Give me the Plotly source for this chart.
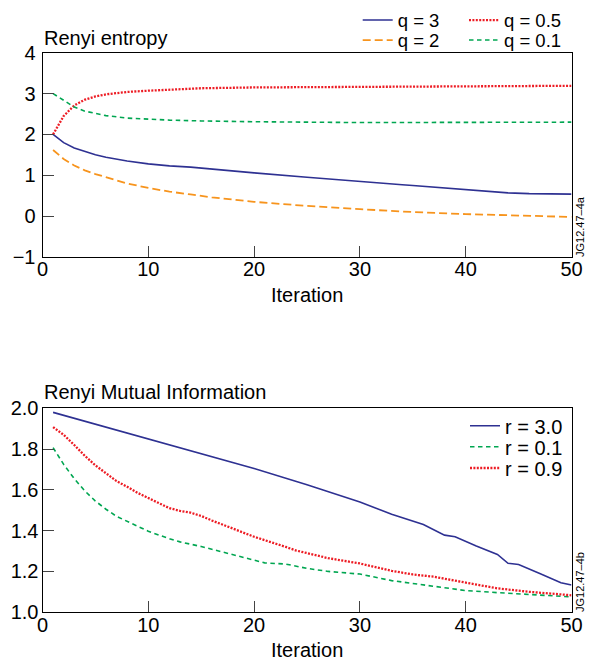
import plotly.graph_objects as go

# ---------------- data ----------------
# Top panel: Renyi entropy vs iteration
q3_x = [1, 2, 3, 4, 5, 6, 8, 10, 12, 14, 16, 20, 25, 30, 34, 35, 40, 44, 46, 50]
q3_y = [2.00, 1.80, 1.67, 1.58, 1.50, 1.44, 1.35, 1.28, 1.23, 1.20, 1.15, 1.06, 0.95, 0.84, 0.77, 0.75, 0.65, 0.57, 0.55, 0.54]

q2_x = [1, 2, 3, 4, 5, 6, 7, 8, 10, 12, 14, 16, 20, 25, 30, 35, 40, 45, 50]
q2_y = [1.62, 1.40, 1.24, 1.12, 1.03, 0.95, 0.87, 0.80, 0.69, 0.60, 0.53, 0.46, 0.35, 0.25, 0.17, 0.10, 0.05, 0.01, -0.02]

q05_x = [1, 2, 3, 4, 5, 6, 7, 8, 10, 12, 15, 20, 30, 40, 50]
q05_y = [2.00, 2.45, 2.71, 2.85, 2.93, 2.98, 3.01, 3.04, 3.07, 3.10, 3.13, 3.15, 3.16, 3.17, 3.19]

q01_x = [1, 2, 3, 4, 5, 6, 8, 10, 12, 15, 20, 30, 40, 50]
q01_y = [3.00, 2.83, 2.67, 2.57, 2.51, 2.46, 2.40, 2.37, 2.35, 2.33, 2.31, 2.29, 2.29, 2.30]

# Bottom panel: Renyi mutual information vs iteration
r30_x = [1, 5, 10, 15, 20, 25, 30, 33, 35, 36, 38, 39, 41, 43, 44, 45, 47, 49, 50]
r30_y = [1.980, 1.922, 1.850, 1.778, 1.705, 1.625, 1.541, 1.480, 1.447, 1.430, 1.378, 1.370, 1.325, 1.283, 1.240, 1.234, 1.190, 1.144, 1.133]

r01_x = [1, 2, 3, 4, 5, 6, 7, 8, 9, 10, 12, 13, 15, 17, 20, 21, 23, 25, 27, 30, 33, 35, 37, 40, 43, 46, 50]
r01_y = [1.807, 1.725, 1.655, 1.595, 1.545, 1.505, 1.470, 1.445, 1.420, 1.397, 1.360, 1.345, 1.322, 1.295, 1.255, 1.242, 1.236, 1.215, 1.200, 1.187, 1.155, 1.140, 1.125, 1.106, 1.096, 1.088, 1.075]

r09_x = [1, 2, 3, 4, 5, 6, 7, 8, 9, 10, 12, 13, 14, 15, 16, 18, 20, 23, 24, 25, 27, 30, 33, 35, 37, 40, 43, 46, 48, 50]
r09_y = [1.908, 1.870, 1.820, 1.767, 1.720, 1.680, 1.643, 1.615, 1.585, 1.560, 1.510, 1.497, 1.488, 1.472, 1.450, 1.410, 1.370, 1.320, 1.302, 1.290, 1.265, 1.239, 1.203, 1.185, 1.174, 1.145, 1.117, 1.100, 1.093, 1.083]

x_ticks = [0, 10, 20, 30, 40, 50]
top_y_ticks = [-1, 0, 1, 2, 3, 4]
top_y_text = ["\u22121", "0", "1", "2", "3", "4"]
bot_y_ticks = [1.0, 1.2, 1.4, 1.6, 1.8, 2.0]
bot_y_text = ["1.0", "1.2", "1.4", "1.6", "1.8", "2.0"]

top_title = "Renyi entropy"
bot_title = "Renyi Mutual Information"
x_title = "Iteration"
top_tag = "JG12.47–4a"
bot_tag = "JG12.47–4b"

# ---------------- style ----------------
W, H = 593, 668
FONT = "Liberation Sans, Arial, Helvetica, sans-serif"
FS = 20
LEG_FS_TOP = 18.5
BLUE = "#2E3192"
ORANGE = "#F7941D"
RED = "#ED1C24"
GREEN = "#00A651"
TICKLEN = 11


def px(v):
    return v / W


def py(v):
    return 1 - v / H


fig = go.Figure()

fig.add_trace(go.Scatter(x=q3_x, y=q3_y, mode="lines", name="q = 3", showlegend=True,
                         line=dict(color=BLUE, width=1.6), xaxis="x", yaxis="y", legend="legend"))
fig.add_trace(go.Scatter(x=q2_x, y=q2_y, mode="lines", name="q = 2", showlegend=True,
                         line=dict(color=ORANGE, width=1.8, dash="8px,4px"), xaxis="x", yaxis="y", legend="legend2"))
fig.add_trace(go.Scatter(x=q05_x, y=q05_y, mode="lines", name="q = 0.5", showlegend=True,
                         line=dict(color=RED, width=2.3, dash="2px,1.4px"), xaxis="x", yaxis="y", legend="legend3"))
fig.add_trace(go.Scatter(x=q01_x, y=q01_y, mode="lines", name="q = 0.1", showlegend=True,
                         line=dict(color=GREEN, width=1.6, dash="4.5px,3.5px"), xaxis="x", yaxis="y", legend="legend4"))

fig.add_trace(go.Scatter(x=r30_x, y=r30_y, mode="lines", name="r = 3.0", showlegend=True,
                         line=dict(color=BLUE, width=1.6), xaxis="x2", yaxis="y2", legend="legend5"))
fig.add_trace(go.Scatter(x=r01_x, y=r01_y, mode="lines", name="r = 0.1", showlegend=True,
                         line=dict(color=GREEN, width=1.6, dash="4.5px,3.5px"), xaxis="x2", yaxis="y2", legend="legend6"))
fig.add_trace(go.Scatter(x=r09_x, y=r09_y, mode="lines", name="r = 0.9", showlegend=True,
                         line=dict(color=RED, width=2.3, dash="2px,1.4px"), xaxis="x2", yaxis="y2", legend="legend7"))

axis_common = dict(
    showgrid=False, zeroline=False, automargin=False,
    showline=True, linecolor="black", linewidth=1, mirror=True,
    ticks="inside", ticklen=TICKLEN, tickwidth=1, tickcolor="#444444",
    tickfont=dict(family=FONT, size=FS, color="black"),
)

xdom = [px(42.5), px(571.5)]
fig.update_layout(
    template="none",
    showlegend=True,
    width=W, height=H, autosize=False,
    margin=dict(l=0, r=0, t=0, b=0, pad=0),
    paper_bgcolor="white", plot_bgcolor="white",
    xaxis=dict(domain=xdom, range=[0, 50], tickvals=x_ticks, anchor="y",
               ticklabelstandoff=-6, **axis_common),
    yaxis=dict(domain=[py(257), py(52.7)], range=[-1, 4], tickvals=top_y_ticks,
               ticktext=top_y_text, anchor="x", ticklabelstandoff=2, **axis_common),
    xaxis2=dict(domain=xdom, range=[0, 50], tickvals=x_ticks, anchor="y2",
                ticklabelstandoff=-5, **axis_common),
    yaxis2=dict(domain=[py(612.2), py(408.3)], range=[1.0, 2.0], tickvals=bot_y_ticks,
                ticktext=bot_y_text, anchor="x2", ticklabelstandoff=-1, **axis_common),
)

# legends kept fully inside the figure so they do not push the margins
leg_common = dict(bgcolor="rgba(0,0,0,0)", borderwidth=0, xanchor="left", yanchor="middle")
top_leg_font = dict(family=FONT, size=LEG_FS_TOP, color="black")
bot_leg_font = dict(family=FONT, size=FS, color="black")
fig.update_layout(
    legend=dict(x=px(357.7), y=py(20.5), font=top_leg_font, **leg_common),
    legend2=dict(x=px(357.7), y=py(40.5), font=top_leg_font, **leg_common),
    legend3=dict(x=px(464), y=py(20.5), font=top_leg_font, **leg_common),
    legend4=dict(x=px(464), y=py(40.5), font=top_leg_font, **leg_common),
    legend5=dict(x=px(465), y=py(425.7), font=bot_leg_font, **leg_common),
    legend6=dict(x=px(465), y=py(446.7), font=bot_leg_font, **leg_common),
    legend7=dict(x=px(465), y=py(468), font=bot_leg_font, **leg_common),
)

ann_font = dict(family=FONT, size=FS, color="black")
annotations = [
    dict(text=top_title, x=px(41.5), y=py(37.8), xanchor="left", yanchor="middle"),
    dict(text=bot_title, x=px(41.5), y=py(392.3), xanchor="left", yanchor="middle"),
    dict(text=x_title, x=px(307), y=py(295), xanchor="center", yanchor="middle"),
    dict(text=x_title, x=px(307), y=py(650), xanchor="center", yanchor="middle"),
]
for a in annotations:
    a.update(xref="paper", yref="paper", showarrow=False, font=ann_font)
annotations += [
    dict(text=top_tag, x=px(580), y=py(227), xref="paper", yref="paper", showarrow=False,
         textangle=-90, xanchor="center", yanchor="middle",
         font=dict(family=FONT, size=11, color="black")),
    dict(text=bot_tag, x=px(580), y=py(582), xref="paper", yref="paper", showarrow=False,
         textangle=-90, xanchor="center", yanchor="middle",
         font=dict(family=FONT, size=11, color="black")),
]
fig.update_layout(annotations=annotations)

fig.write_html("out.html", config={"displayModeBar": False},
               post_script="document.body.style.margin='0';document.body.style.overflow='hidden';")
